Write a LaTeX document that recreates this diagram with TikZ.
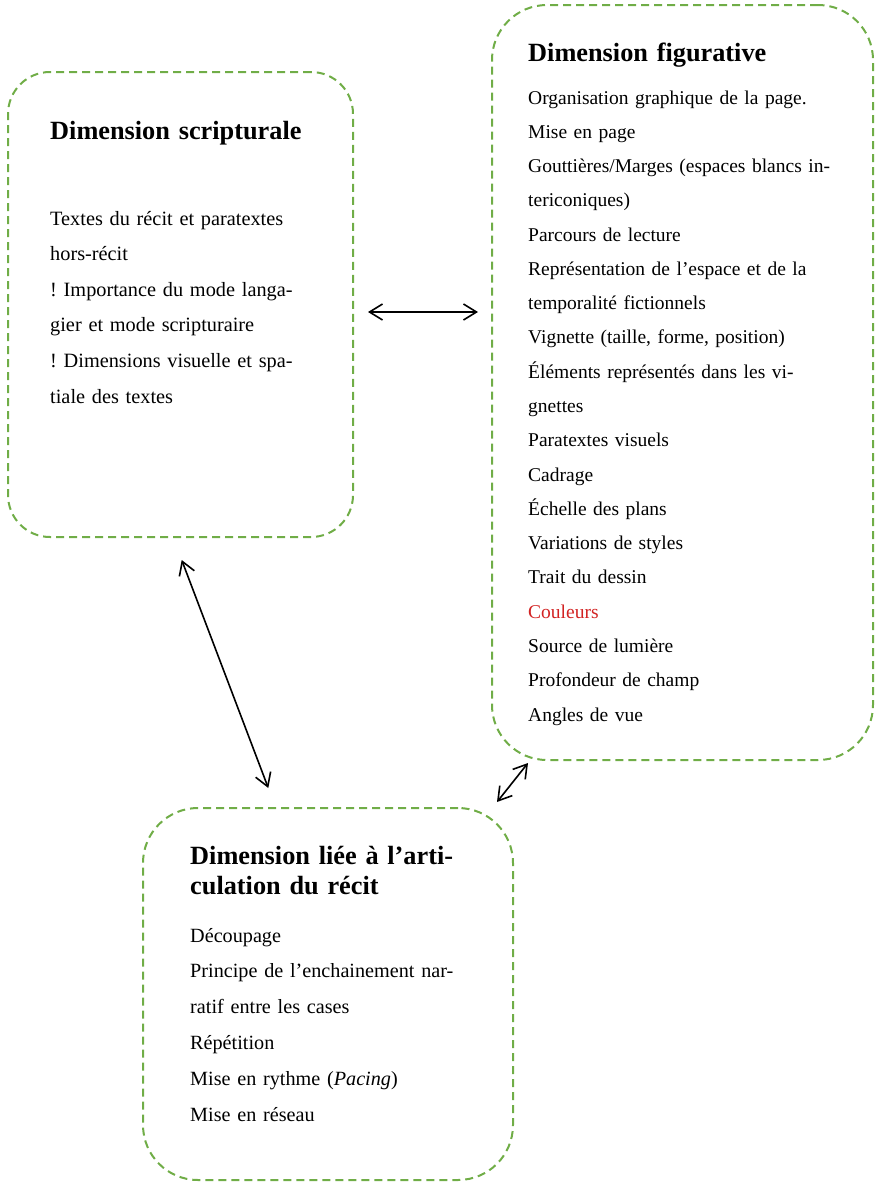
\documentclass[tikz,border=0pt]{standalone}
\usepackage{fontspec}
\setmainfont{Liberation Serif}
\usetikzlibrary{arrows.meta}
\definecolor{boxgreen}{RGB}{112,173,71}
\definecolor{hlred}{RGB}{210,35,35}
\frenchspacing
\begin{document}
\begin{tikzpicture}[x=1pt,y=-1pt,
  dimbox/.style={draw=boxgreen, line width=2pt, dash pattern=on 8pt off 5pt,
    rounded corners=#1, inner sep=0pt},
  dimbox/.default=50pt,
  titletext/.style={anchor=base west, inner sep=0pt, text width=#1, align=left,
    font=\fontsize{26.3}{30}\selectfont\bfseries},
  bodytext/.style={anchor=base west, inner sep=0pt, text width=#1, align=left},
  link/.style={line width=1.6pt, {Straight Barb[length=13pt,width=16pt]}-{Straight Barb[length=13pt,width=16pt]}}
]
\useasboundingbox (0,0) rectangle (876,1184);

% boxes
\node[dimbox=42pt, minimum width=345pt, minimum height=465pt] (scr) at (180.5,304.5) {};
\node[dimbox=55pt, minimum width=381pt, minimum height=755pt] (fig) at (682.5,382.5) {};
\node[dimbox=55pt, minimum width=370pt, minimum height=372pt] (rec) at (328,994) {};

% box 1
\node[titletext=320pt] (scrtitle) at (50,139) {Dimension scripturale};
\node[bodytext=300pt, font=\fontsize{20.3}{35.6}\selectfont] (scrbody) at (50,225)
 {Textes du récit et paratextes\\
  hors-récit\\
  ! Importance du mode langa-\\
  gier et mode scripturaire\\
  ! Dimensions visuelle et spa-\\
  tiale des textes};

% box 2
\node[titletext=330pt] (figtitle) at (528,61) {Dimension figurative};
\node[bodytext=340pt, font=\fontsize{19.5}{34.28}\selectfont] (figbody) at (528,104)
 {Organisation graphique de la page.\\
  Mise en page\\
  Gouttières/Marges (espaces blancs in-\\
  tericoniques)\\
  Parcours de lecture\\
  Représentation de l’espace et de la\\
  temporalité fictionnels\\
  Vignette (taille, forme, position)\\
  Éléments représentés dans les vi-\\
  gnettes\\
  Paratextes visuels\\
  Cadrage\\
  Échelle des plans\\
  Variations de styles\\
  Trait du dessin\\
  \textcolor{hlred}{Couleurs}\\
  Source de lumière\\
  Profondeur de champ\\
  Angles de vue};

% box 3
\node[titletext=320pt] (rectitle) at (190,864)
 {Dimension liée à l’arti-\\
  culation du récit};
\node[bodytext=320pt, font=\fontsize{20.2}{35.8}\selectfont] (recbody) at (190,942)
 {Découpage\\
  Principe de l’enchainement nar-\\
  ratif entre les cases\\
  Répétition\\
  Mise en rythme (\textit{Pacing})\\
  Mise en réseau};

% connectors
\coordinate (scrE) at (368,312);
\coordinate (figW) at (478,312);
\coordinate (scrS) at (181.7,560);
\coordinate (recN) at (268.3,788);
\coordinate (figS) at (528,763);
\coordinate (recNE) at (497,802);
\draw[link] (scrE) -- (figW);
\draw[link] (scrS) -- (recN);
\draw[link] (figS) -- (recNE);
\end{tikzpicture}
\end{document}
